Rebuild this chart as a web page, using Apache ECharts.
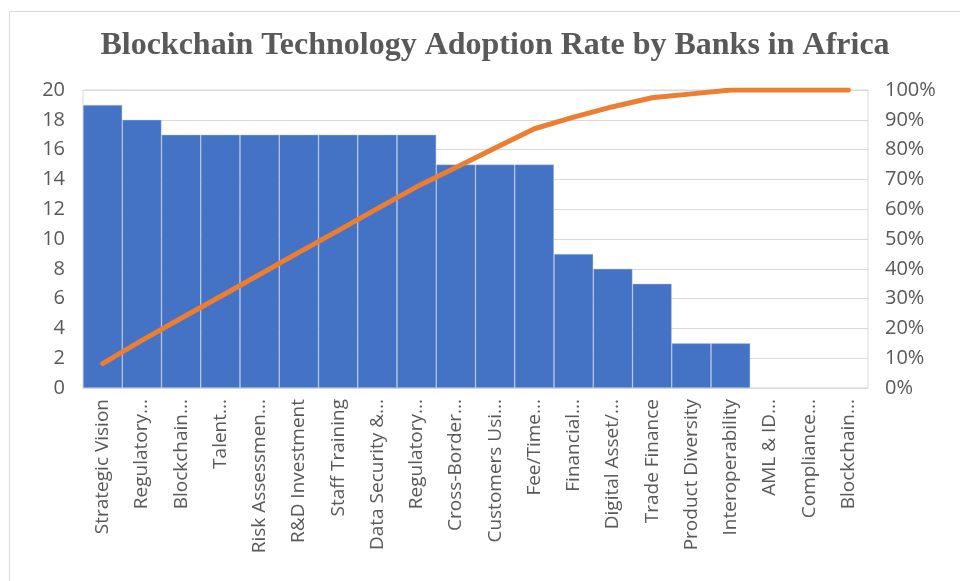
<!DOCTYPE html>
<html>
<head>
<meta charset="utf-8">
<script src="https://cdn.jsdelivr.net/npm/echarts@6/dist/echarts.min.js"></script>
<style>
  html, body { margin: 0; padding: 0; background: #fff; }
  #chart { width: 960px; height: 581px; }
</style>
</head>
<body>
<div id="chart"></div>
<script>
// categories as they appear (truncated) on the axis
const categories = [
  'Strategic Vision', 'Regulatory...', 'Blockchain...', 'Talent...', 'Risk Assessmen...',
  'R&D Investment', 'Staff Training', 'Data Security &...', 'Regulatory...', 'Cross-Border...',
  'Customers Usi...', 'Fee/Time...', 'Financial...', 'Digital Asset/...', 'Trade Finance',
  'Product Diversity', 'Interoperability', 'AML & ID...', 'Compliance...', 'Blockchain...'
];
const counts = [19, 18, 17, 17, 17, 17, 17, 17, 17, 15, 15, 15, 9, 8, 7, 3, 3, 0, 0, 0];
// cumulative share (%)
const cumulative = [8.2, 16.0, 23.4, 30.7, 38.1, 45.5, 52.8, 60.2, 67.5, 74.0,
  80.5, 87.0, 90.9, 94.4, 97.4, 98.7, 100, 100, 100, 100];

const chart = echarts.init(document.getElementById('chart'));

// empty bars get no outline so no stray line shows on the axis
const barData = counts.map(v => v === 0 ? { value: v, itemStyle: { borderWidth: 0 } } : v);

const option = {
  animation: false,
  graphic: [{
    type: 'rect',
    shape: { x: 9.5, y: 11.5, width: 960, height: 580 },
    style: { fill: 'none', stroke: '#d9d9d9', lineWidth: 1 }
  }],
  title: {
    text: 'Blockchain Technology Adoption Rate by Banks in Africa',
    left: 490,
    textAlign: 'center',
    top: 25,
    textStyle: {
      fontFamily: 'Liberation Serif',
      fontWeight: 'bold',
      fontSize: 32,
      color: '#595959'
    }
  },
  grid: {
    left: 83,
    right: 92,
    top: 90,
    bottom: 193,
    show: true,
    borderColor: '#d9d9d9',
    borderWidth: 1
  },
  xAxis: {
    type: 'category',
    data: categories,
    axisLine: { show: true, lineStyle: { color: '#d9d9d9' } },
    axisTick: { show: false },
    axisLabel: {
      rotate: 90,
      interval: 0,
      margin: 11,
      fontFamily: 'Open Sans',
      fontSize: 19,
      color: '#595959'
    }
  },
  yAxis: [
    {
      type: 'value',
      min: 0,
      max: 20,
      interval: 2,
      axisLine: { show: false },
      axisTick: { show: false },
      splitLine: { lineStyle: { color: '#d9d9d9' } },
      axisLabel: {
        margin: 18,
        fontFamily: 'Open Sans',
        fontSize: 20,
        color: '#595959'
      }
    },
    {
      type: 'value',
      min: 0,
      max: 100,
      interval: 10,
      axisLine: { show: false },
      axisTick: { show: false },
      splitLine: { show: false },
      axisLabel: {
        margin: 17,
        formatter: '{value}%',
        fontFamily: 'Open Sans',
        fontSize: 20,
        color: '#595959'
      }
    }
  ],
  series: [
    {
      type: 'bar',
      data: barData,
      barCategoryGap: 0,
      itemStyle: {
        color: '#4472C4',
        borderColor: 'rgba(190,205,235,0.7)',
        borderWidth: 0.6
      }
    },
    {
      type: 'line',
      yAxisIndex: 1,
      data: cumulative,
      symbol: 'none',
      lineStyle: { color: '#ED7D31', width: 5, cap: 'round', join: 'round' }
    }
  ]
};

chart.setOption(option);
</script>
</body>
</html>
